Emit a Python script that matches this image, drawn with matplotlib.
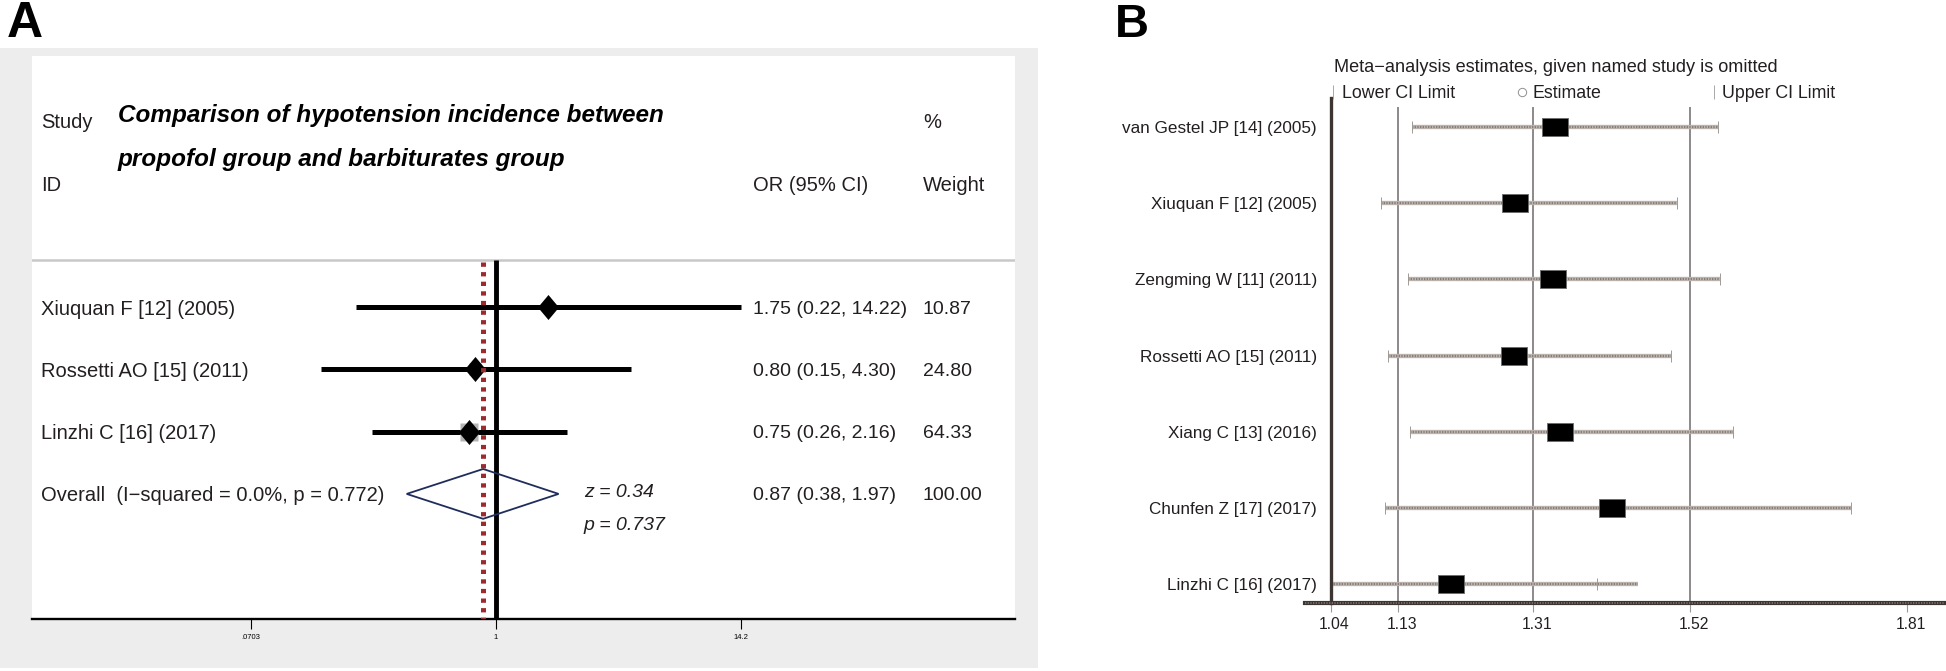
import matplotlib

matplotlib.use("Agg")
import matplotlib.pyplot as plt
import numpy as np
from matplotlib.patches import Polygon, Rectangle
from matplotlib.path import Path
from matplotlib.transforms import ScaledTranslation, blended_transform_factory

# ---- panel A: forest plot (OR, 95% CI, weight)
a_studies = ["Xiuquan F [12] (2005)", "Rossetti AO [15] (2011)", "Linzhi C [16] (2017)"]
a_or = [1.75, 0.80, 0.75]
a_lo = [0.22, 0.15, 0.26]
a_hi = [14.22, 4.30, 2.16]
a_weight = [10.87, 24.80, 64.33]
a_overall_or, a_overall_lo, a_overall_hi = 0.87, 0.38, 1.97
a_overall_label = "Overall  (I\u2212squared = 0.0%, p = 0.772)"
a_z, a_p = "0.34", "0.737"
a_ticks = [0.0703, 1, 14.2]
a_ticklabels = [".0703", "1", "14.2"]

# ---- panel B: leave-one-out sensitivity
b_studies = ["van Gestel JP [14] (2005)", "Xiuquan F [12] (2005)", "Zengming W [11] (2011)",
             "Rossetti AO [15] (2011)", "Xiang C [13] (2016)", "Chunfen Z [17] (2017)",
             "Linzhi C [16] (2017)"]
b_est = [1.340, 1.286, 1.337, 1.285, 1.346, 1.416, 1.201]
b_lo = [1.149, 1.107, 1.143, 1.117, 1.146, 1.113, 1.041]
b_hi = [1.557, 1.503, 1.560, 1.494, 1.577, 1.735, 1.396]
b_line_end = [1.557, 1.503, 1.560, 1.494, 1.577, 1.735, 1.451]
b_overall = [1.13, 1.31, 1.52]   # lower CI, estimate, upper CI
b_ticks = [1.04, 1.13, 1.31, 1.52, 1.81]

W, H = 1946, 671
FONT = ["Liberation Sans", "DejaVu Sans"]
plt.rcParams["font.family"] = FONT
TXT = "#231f20"

fig = plt.figure(figsize=(W / 100, H / 100), dpi=100)
fig.patch.set_facecolor("white")


def px_axes(x0, y0, x1, y1):
    return fig.add_axes([x0 / W, 1 - y1 / H, (x1 - x0) / W, (y1 - y0) / H])


def fx(x):
    return x / W


def fy(y):
    return 1 - y / H


# ================= panel A =================
fig.patches.append(Rectangle((0, fy(668)), fx(1038), (668 - 48) / H,
                             transform=fig.transFigure, facecolor="#ededed",
                             edgecolor="none", zorder=-5))
axA = px_axes(32, 56, 1015, 619)
axA.set_zorder(1)
axA.set_facecolor("white")
axA.set_xscale("log")
axA.set_xlim(0.00656, 276.6)
axA.set_ylim(5.008, -4.029)
for s in ("top", "right", "left"):
    axA.spines[s].set_visible(False)
axA.spines["bottom"].set_linewidth(1.7)
axA.set_yticks([])
axA.set_xticks(a_ticks)
axA.set_xticklabels(a_ticklabels)
axA.xaxis.set_minor_locator(matplotlib.ticker.NullLocator())
axA.tick_params(axis="x", direction="out", length=7.2, width=0.8, pad=3.6,
                labelsize=5.5, colors="black")

trA = blended_transform_factory(axA.transAxes, axA.transData)
sep_y = -0.754
axA.axhline(sep_y, color="#c8c8c8", lw=1.8, zorder=1)

# null line and pooled estimate line
axA.vlines(1, sep_y, 5.008, color="black", lw=3.5, zorder=2)
axA.vlines(a_overall_or, sep_y + 0.03, 5.008, color="#9e2a30", lw=3.6,
           linestyles=(0, (0.86, 1.06)), zorder=5)

diamond = Path([(0, -1), (0.84, 0), (0, 1), (-0.84, 0), (0, -1)],
               [Path.MOVETO, Path.LINETO, Path.LINETO, Path.LINETO, Path.CLOSEPOLY])
rows = np.arange(len(a_studies))
for i in rows:
    axA.plot([a_lo[i], a_hi[i]], [i, i], color="black", lw=3.6,
             solid_capstyle="butt", zorder=3)
    side = 18 * np.sqrt(a_weight[i] / max(a_weight)) * 0.72
    axA.plot(a_or[i], i, marker="s", ms=side, color="#b4b4b4", mec="none", zorder=3.5)
    axA.plot(a_or[i], i, marker=diamond, ms=18, color="black", mec="none", zorder=4)

oy = len(a_studies)
dia = Polygon([(a_overall_lo, oy), (a_overall_or, oy - 0.40), (a_overall_hi, oy),
               (a_overall_or, oy + 0.40)], closed=True, facecolor="none",
              edgecolor="#1f2d5c", lw=1.3, zorder=4)
axA.add_patch(dia)

lab_x, or_x, w_x = 0.0092, 0.7335, 0.9064
fs = 14.5
axA.text(lab_x, -3.0, "Study", transform=trA, fontsize=fs, va="center_baseline", color=TXT)
axA.text(lab_x, -1.99, "ID", transform=trA, fontsize=fs, va="center_baseline", color=TXT)
axA.text(w_x, -3.0, "%", transform=trA, fontsize=fs, va="center_baseline", color=TXT)
axA.text(or_x, -1.99, "OR (95% CI)", transform=trA, fontsize=fs, va="center_baseline", color=TXT)
axA.text(w_x, -1.99, "Weight", transform=trA, fontsize=fs, va="center_baseline", color=TXT)
axA.text(0.0875, -3.11, "Comparison of hypotension incidence between", transform=trA,
         fontsize=17.5, fontweight="bold", fontstyle="italic", va="center_baseline")
axA.text(0.0875, -2.41, "propofol group and barbiturates group", transform=trA,
         fontsize=17.5, fontweight="bold", fontstyle="italic", va="center_baseline")

for i in rows:
    axA.text(lab_x, i, a_studies[i], transform=trA, fontsize=fs, va="center_baseline", color=TXT)
    axA.text(or_x, i, f"{a_or[i]:.2f} ({a_lo[i]:.2f}, {a_hi[i]:.2f})", transform=trA,
             fontsize=14, va="center_baseline", color=TXT)
    axA.text(w_x, i, f"{a_weight[i]:.2f}", transform=trA, fontsize=14,
             va="center_baseline", color=TXT)
axA.text(lab_x, oy, a_overall_label, transform=trA, fontsize=fs, va="center_baseline", color=TXT)
axA.text(or_x, oy, f"{a_overall_or:.2f} ({a_overall_lo:.2f}, {a_overall_hi:.2f})",
         transform=trA, fontsize=14, va="center_baseline", color=TXT)
axA.text(w_x, oy, f"{sum(a_weight):.2f}", transform=trA, fontsize=14,
         va="center_baseline", color=TXT)
axA.text(0.5615, oy - 0.05, f"z = {a_z}", transform=trA, fontsize=14, fontstyle="italic",
         va="center_baseline", color=TXT)
axA.text(0.5615, oy + 0.47, f"p = {a_p}", transform=trA, fontsize=14, fontstyle="italic",
         va="center_baseline", color=TXT)

fig.text(fx(7), fy(37), "A", fontsize=36, fontweight="bold", va="baseline")

# ================= panel B =================
axB = px_axes(1305, 98, 1944, 603)
axB.set_xlim(1.0058, 1.8593)
axB.set_ylim(6.249, -0.3807)
for s in ("top", "right"):
    axB.spines[s].set_visible(False)
axB.spines["left"].set_position(("data", 1.04))
axB.spines["left"].set_color("#3c3532")
axB.spines["left"].set_linewidth(2.4)
axB.spines["bottom"].set_color("#3c3532")
axB.spines["bottom"].set_linewidth(3.0)
axB.set_yticks([])
axB.set_xticks(b_ticks)
axB.set_xticklabels([f"{t:.2f}" for t in b_ticks])
axB.tick_params(axis="x", direction="out", length=6.5, width=0.8, pad=3.9,
                labelsize=11.3, colors="#9a9a9a", labelcolor=TXT)
shift = ScaledTranslation(4 / 100, 0, fig.dpi_scale_trans)
for tk in axB.xaxis.get_major_ticks():
    tk.label1.set_transform(tk.label1.get_transform() + shift)

# texture on the bottom axis line
axB.axhline(6.249, color="#7d7570", lw=1.2, dashes=(0.8, 0.8), zorder=6, clip_on=False)

axB.vlines(b_overall, -0.263, 6.249, color="#6e6a68", lw=1.1, zorder=1)

rect = Path([(-1.5, -1), (1.5, -1), (1.5, 1), (-1.5, 1), (-1.5, -1)],
            [Path.MOVETO, Path.LINETO, Path.LINETO, Path.LINETO, Path.CLOSEPOLY])
trB = blended_transform_factory(axB.transAxes, axB.transData)
for i, name in enumerate(b_studies):
    axB.plot([b_lo[i], b_line_end[i]], [i, i], color="#bdb5b0", lw=3.1,
             solid_capstyle="butt", zorder=2)
    axB.plot([b_lo[i], b_line_end[i]], [i, i], color="#877e79", lw=1.6,
             dashes=(0.6, 0.6), zorder=2.1)
    axB.plot([b_lo[i], b_hi[i]], [i, i], ls="none", marker="|", ms=8.6, mew=0.7,
             color="#a09a96", zorder=2.2)
    axB.plot(b_est[i], i, marker=rect, ms=19.4, color="black", mec="#6b6b6b",
             mew=0.6, zorder=3)
    axB.text(0.0188, i, name, transform=trB, ha="right", va="center_baseline",
             fontsize=12.3, color=TXT)

fig.text(fx(1334), fy(66), "Meta\u2212analysis estimates, given named study is omitted",
         fontsize=13.1, va="center_baseline", color=TXT)
fig.text(fx(1342), fy(92), "Lower CI Limit", fontsize=12.8, va="center_baseline", color=TXT)
fig.text(fx(1533), fy(92), "Estimate", fontsize=12.8, va="center_baseline", color=TXT)
fig.text(fx(1722), fy(92), "Upper CI Limit", fontsize=12.8, va="center_baseline", color=TXT)
leg = fig.add_axes([0, 0, 1, 1], facecolor="none")
leg.set_xlim(0, W)
leg.set_ylim(H, 0)
leg.axis("off")
leg.plot([1333, 1714], [92, 92], ls="none", marker="|", ms=10, mew=0.7, color="#a8a8a8")
leg.plot([1522], [92], ls="none", marker="o", ms=6, mfc="none", mec="#909090", mew=0.7)

fig.text(fx(1115), fy(37), "B", fontsize=34, fontweight="bold", va="baseline")

fig.savefig("out.png", dpi=100, facecolor="white")
